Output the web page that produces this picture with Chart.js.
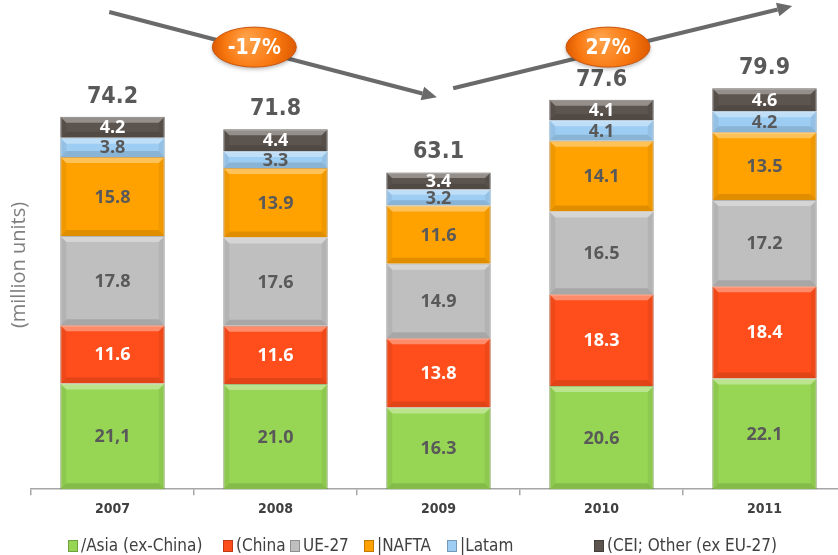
<!DOCTYPE html>
<html>
<head>
<meta charset="utf-8">
<script src="https://cdn.jsdelivr.net/npm/chart.js@4.4.1/dist/chart.umd.min.js"></script>
<style>
  html, body { margin: 0; padding: 0; overflow: hidden; background: #fff; }
  #wrap { position: relative; width: 846px; height: 555px; }
  #legend { position: absolute; left: 0; top: 536px; width: 838px; height: 19px;
    font-family: "Liberation Sans Narrow", "DejaVu Sans Condensed", "Open Sans", sans-serif;
    font-size: 17px; color: #404040; }
  .item { position: absolute; top: 0; white-space: nowrap; line-height: 19px; }
  .box { display: inline-block; width: 10px; height: 12px; margin-right: 3px; vertical-align: -1px;
    box-shadow: inset 0 0 0 1px rgba(0,0,0,0.25); }
</style>
</head>
<body>
<div id="wrap">
  <canvas id="myChart" width="846" height="555"></canvas>
  <div id="legend"></div>
</div>
<script>
const years = ["2007", "2008", "2009", "2010", "2011"];
const asia = [21.1, 21.0, 16.3, 20.6, 22.1];
const china = [11.6, 11.6, 13.8, 18.3, 18.4];
const ue27 = [17.8, 17.6, 14.9, 16.5, 17.2];
const nafta = [15.8, 13.9, 11.6, 14.1, 13.5];
const latam = [3.8, 3.3, 3.2, 4.1, 4.2];
const cei = [4.2, 4.4, 3.4, 4.1, 4.6];
const totals = [74.2, 71.8, 63.1, 77.6, 79.9];
const changes = ["-17%", "27%"];
const legendNames = ["/Asia (ex-China)", "(China", "UE-27", "|NAFTA", "|Latam", "(CEI; Other (ex EU-27)"];
const legendLeft = [68, 223, 290, 364, 447, 594];

const series = [
  { data: asia, color: "#97D654", border: "#6f9e3c", text: "#595959" },
  { data: china, color: "#FF4E1B", border: "#b8370f", text: "#ffffff" },
  { data: ue27, color: "#BFBFBF", border: "#8c8c8c", text: "#595959" },
  { data: nafta, color: "#FFA200", border: "#c07800", text: "#595959" },
  { data: latam, color: "#9DCDF3", border: "#6b9cc4", text: "#595959" },
  { data: cei, color: "#5C544E", border: "#3a3430", text: "#ffffff" },
];

// legend as html text
const legendEl = document.getElementById("legend");
legendNames.forEach((name, i) => {
  const d = document.createElement("div");
  d.className = "item";
  d.style.left = legendLeft[i] + "px";
  d.innerHTML = '<span class="box" style="background:' + series[i].color + '"></span>' + name;
  legendEl.appendChild(d);
});

function fmt(v, ds, i) {
  if (ds === 0 && i === 0) return "21,1";
  return v.toFixed(1);
}

function arrow(c, x1, y1, x2, y2) {
  const a = Math.atan2(y2 - y1, x2 - x1);
  const hl = 15, hw = 7;
  c.strokeStyle = "#6a6a6a";
  c.fillStyle = "#6a6a6a";
  c.lineWidth = 4;
  c.beginPath();
  c.moveTo(x1, y1);
  c.lineTo(x2 - hl * Math.cos(a), y2 - hl * Math.sin(a));
  c.stroke();
  c.beginPath();
  c.moveTo(x2, y2);
  c.lineTo(x2 - hl * Math.cos(a) + hw * Math.sin(a), y2 - hl * Math.sin(a) - hw * Math.cos(a));
  c.lineTo(x2 - hl * Math.cos(a) - hw * Math.sin(a), y2 - hl * Math.sin(a) + hw * Math.cos(a));
  c.closePath();
  c.fill();
}

function bubble(c, x, y, text) {
  const rx = 42, ry = 20;
  const g = c.createRadialGradient(x - 8, y - 8, 4, x, y, rx);
  g.addColorStop(0, "#FF9F45");
  g.addColorStop(0.6, "#F8770F");
  g.addColorStop(1, "#DD5A00");
  c.save();
  c.shadowColor = "rgba(0,0,0,0.3)";
  c.shadowBlur = 4;
  c.shadowOffsetY = 2;
  c.fillStyle = g;
  c.beginPath();
  c.ellipse(x, y, rx, ry, 0, 0, Math.PI * 2);
  c.fill();
  c.restore();
  c.strokeStyle = "#c9550a";
  c.lineWidth = 1;
  c.beginPath();
  c.ellipse(x, y, rx, ry, 0, 0, Math.PI * 2);
  c.stroke();
  c.fillStyle = "#ffffff";
  c.font = "bold 21px 'Liberation Sans Narrow', 'DejaVu Sans Condensed', sans-serif";
  c.textAlign = "center";
  c.textBaseline = "middle";
  c.fillText(text, x, y + 1);
}

const decor = {
  id: "decor",
  afterDatasetsDraw(chart) {
    const c = chart.ctx;
    const xs = chart.scales.x, ys = chart.scales.y;
    // bevel and labels
    chart.data.datasets.forEach((ds, di) => {
      chart.getDatasetMeta(di).data.forEach((bar, i) => {
        const l = bar.x - bar.width / 2, r = bar.x + bar.width / 2;
        const t = Math.min(bar.y, bar.base), b = Math.max(bar.y, bar.base);
        const e = Math.min(6, (b - t) / 3);
        c.save();
        c.fillStyle = "rgba(255,255,255,0.35)";
        c.beginPath();
        c.moveTo(l, t); c.lineTo(r, t); c.lineTo(r - e, t + e); c.lineTo(l + e, t + e); c.closePath();
        c.fill();
        c.fillStyle = "rgba(0,0,0,0.12)";
        c.beginPath();
        c.moveTo(l, b); c.lineTo(r, b); c.lineTo(r - e, b - e); c.lineTo(l + e, b - e); c.closePath();
        c.fill();
        c.fillStyle = "rgba(0,0,0,0.06)";
        c.beginPath();
        c.moveTo(l, t); c.lineTo(l + e, t + e); c.lineTo(l + e, b - e); c.lineTo(l, b); c.closePath();
        c.moveTo(r, t); c.lineTo(r - e, t + e); c.lineTo(r - e, b - e); c.lineTo(r, b); c.closePath();
        c.fill();
        c.restore();
        c.fillStyle = series[di].text;
        c.font = "bold 18px 'Open Sans', sans-serif";
        c.textAlign = "center";
        c.textBaseline = "middle";
        c.fillText(fmt(ds.data[i], di, i), bar.x, (t + b) / 2 + 1);
      });
    });
    // totals
    const top = chart.getDatasetMeta(chart.data.datasets.length - 1).data;
    c.fillStyle = "#595959";
    c.font = "bold 23px 'Liberation Sans Narrow', 'DejaVu Sans Condensed', sans-serif";
    c.textAlign = "center";
    c.textBaseline = "middle";
    totals.forEach((v, i) => c.fillText(v.toFixed(1), top[i].x, top[i].y - 20));
    // growth arrows
    arrow(c, xs.getPixelForValue(-0.02), ys.getPixelForValue(95.2), xs.getPixelForValue(1.99), ys.getPixelForValue(78.2));
    arrow(c, xs.getPixelForValue(2.09), ys.getPixelForValue(80.0), xs.getPixelForValue(4.17), ys.getPixelForValue(96.4));
    bubble(c, xs.getPixelForValue(0.87), ys.getPixelForValue(88.2), changes[0]);
    bubble(c, xs.getPixelForValue(3.04), ys.getPixelForValue(88.2), changes[1]);
    // y title
    c.save();
    c.translate(19, 265);
    c.rotate(-Math.PI / 2);
    c.fillStyle = "#7f7f7f";
    c.font = "20px 'Open Sans', sans-serif";
    c.fillText("(million units)", 0, 0);
    c.restore();
  },
};

const ctx = document.getElementById("myChart");
new Chart(ctx, {
  type: "bar",
  data: {
    labels: years,
    datasets: series.map((s, i) => ({
      label: legendNames[i],
      data: s.data,
      backgroundColor: s.color,
      borderColor: s.border,
      borderWidth: 1,
      categoryPercentage: 1,
      barPercentage: 0.64,
    })),
  },
  options: {
    responsive: false,
    animation: false,
    layout: { padding: { left: 31, right: 0, top: 0, bottom: 31 } },
    plugins: { legend: { display: false }, tooltip: { enabled: false } },
    scales: {
      x: {
        stacked: true,
        border: { display: true, color: "#a6a6a6", width: 1.5 },
        grid: { drawOnChartArea: false, drawTicks: true, tickLength: 6, color: "#a6a6a6", lineWidth: 1.5 },
        ticks: {
          color: "#404040",
          padding: 6,
          font: { family: "'Liberation Sans Narrow', 'DejaVu Sans Condensed', sans-serif", size: 14, weight: "bold" },
        },
      },
      y: { stacked: true, display: false, min: 0, max: 97.6 },
    },
  },
  plugins: [decor],
});
</script>
</body>
</html>
